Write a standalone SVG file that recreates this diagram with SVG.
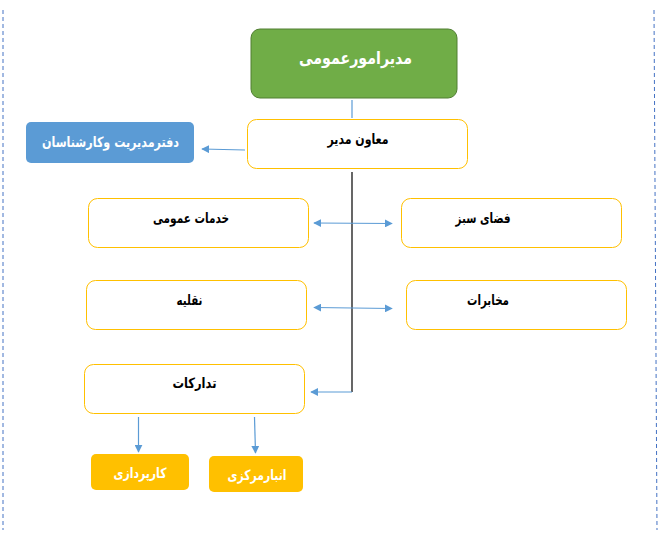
<svg xmlns="http://www.w3.org/2000/svg" width="664" height="544" viewBox="0 0 664 544">
<style>
.t{font-family:"DejaVu Sans",sans-serif;font-weight:bold;text-anchor:middle;dominant-baseline:central;direction:rtl}
.y{fill:#fff;stroke:#FFC000;stroke-width:1}
.o{fill:#FFC000}
.b{stroke:#5B9BD5;stroke-width:1.2;fill:none}
.k{stroke:#000;stroke-width:1.2;fill:none}
.dash{stroke:#4472C4;stroke-width:1;stroke-dasharray:4 3}
</style>
<defs>
<marker id="ah" viewBox="0 0 10 10" refX="9" refY="5" markerWidth="8" markerHeight="8" markerUnits="userSpaceOnUse" orient="auto-start-reverse"><path d="M0,0 L10,5 L0,10 z" fill="#5B9BD5"/></marker>
</defs>
<rect width="664" height="544" fill="#fff"/>
<line class="dash" x1="3" y1="10" x2="3" y2="530"/>
<line class="dash" x1="654" y1="10" x2="657" y2="530"/>
<g id="connectors">
<line class="b" x1="352" y1="100" x2="352" y2="118"/>
<line class="b" x1="245" y1="150" x2="202" y2="149" marker-end="url(#ah)"/>
<polyline class="k" points="352,172 352,392"/>
<line class="b" x1="352" y1="392" x2="311" y2="392" marker-end="url(#ah)"/>
<line class="b" x1="314" y1="223" x2="392" y2="223.5" marker-start="url(#ah)" marker-end="url(#ah)"/>
<line class="b" x1="314" y1="307.5" x2="392" y2="308.5" marker-start="url(#ah)" marker-end="url(#ah)"/>
<line class="b" x1="138.5" y1="417" x2="138.5" y2="452" marker-end="url(#ah)"/>
<line class="b" x1="254.5" y1="417" x2="255.5" y2="453" marker-end="url(#ah)"/>
</g>
<g id="n-gm"><rect x="251" y="29" width="206" height="69" rx="9" fill="#70AD47" stroke="#507E32" stroke-width="1"/><text class="t" x="355.5" y="58" font-size="17" fill="#fff" textLength="113" lengthAdjust="spacingAndGlyphs">مدیرامورعمومی</text></g>
<g id="n-deputy"><rect class="y" x="247.5" y="119.5" width="220" height="49" rx="9"/><text class="t" x="358" y="139" font-size="14" textLength="61" lengthAdjust="spacingAndGlyphs">معاون مدیر</text></g>
<g id="n-office"><rect x="26" y="122" width="168" height="41" rx="5" fill="#5B9BD5"/><text class="t" x="110.5" y="142" font-size="14" fill="#fff" textLength="137" lengthAdjust="spacingAndGlyphs">دفترمدیریت وکارشناسان</text></g>
<g id="n-khadamat"><rect class="y" x="88.5" y="198.5" width="220" height="49" rx="9"/><text class="t" x="191" y="218" font-size="14" textLength="76" lengthAdjust="spacingAndGlyphs">خدمات عمومی</text></g>
<g id="n-fazasabz"><rect class="y" x="401.5" y="198.5" width="220" height="49" rx="9"/><text class="t" x="483" y="218" font-size="14" textLength="55" lengthAdjust="spacingAndGlyphs">فضای سبز</text></g>
<g id="n-naghlie"><rect class="y" x="86.5" y="280.5" width="220" height="49" rx="9"/><text class="t" x="189.5" y="300" font-size="14" textLength="26" lengthAdjust="spacingAndGlyphs">نقلیه</text></g>
<g id="n-mokhaberat"><rect class="y" x="406.5" y="280.5" width="220" height="49" rx="9"/><text class="t" x="488" y="300" font-size="14" textLength="42" lengthAdjust="spacingAndGlyphs">مخابرات</text></g>
<g id="n-tadarokat"><rect class="y" x="84.5" y="364.5" width="220" height="49" rx="9"/><text class="t" x="194.5" y="383" font-size="14" textLength="44" lengthAdjust="spacingAndGlyphs">تدارکات</text></g>
<g id="n-karpardazi"><rect class="o" x="91" y="454" width="98" height="36" rx="5"/><text class="t" x="140" y="473" font-size="14" fill="#fff" textLength="53" lengthAdjust="spacingAndGlyphs">کارپردازی</text></g>
<g id="n-anbar"><rect class="o" x="209" y="456" width="94" height="36" rx="5"/><text class="t" x="257" y="475" font-size="14" fill="#fff" textLength="59" lengthAdjust="spacingAndGlyphs">انبارمرکزی</text></g>
</svg>
